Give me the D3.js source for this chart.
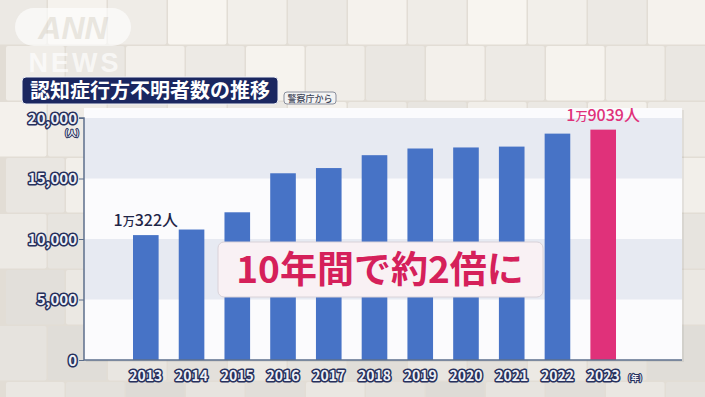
<!DOCTYPE html>
<html lang="ja">
<head>
<meta charset="utf-8">
<title>認知症行方不明者数の推移</title>
<script src="https://cdn.jsdelivr.net/npm/d3@7"></script>
<style>
  body { margin: 0; background: #e8e4dd; }
  svg { display: block; }
  .num { font-family: "Noto Sans CJK JP", "Noto Sans", sans-serif; font-weight: 700;
         fill: #eef0f6; stroke: #27305c; stroke-width: 3px; paint-order: stroke; stroke-linejoin: round; }
</style>
</head>
<body>
<div id="chart"></div>
<script>
// data (警察庁)
var years = ["2013","2014","2015","2016","2017","2018","2019","2020","2021","2022","2023"];
var missing = [10322, 10783, 12208, 15432, 15863, 16927, 17479, 17565, 17636, 18709, 19039];
var yTicks = [0, 5000, 10000, 15000, 20000];

var W = 705, H = 397;
var svg = d3.select("#chart").append("svg").attr("width", W).attr("height", H);

// background: pale tiled wall
var bg = svg.append("g");
bg.append("rect").attr("width", W).attr("height", H).attr("fill", "#e2ddd5");
for (var row = 0; row < 8; row++) {
  for (var col = 0; col < 12; col++) {
    var tw = 60, th = 56;
    var ox = (row % 2) * 18 - 12;
    var shade = 236 + ((row * 7 + col * 13) % 5) * 3 - row * 2;
    bg.append("rect")
      .attr("x", ox + col * tw).attr("y", row * th - 10)
      .attr("width", tw - 1.5).attr("height", th - 1.5)
      .attr("rx", 2)
      .attr("fill", d3.rgb(shade, shade - 3, shade - 8));
  }
}

// ANN NEWS logo
var logo = svg.append("g").attr("opacity", 0.65);
logo.append("rect").attr("x", 15).attr("y", 8).attr("width", 116).attr("height", 38).attr("rx", 19).attr("fill", "#ffffff");
logo.append("text").attr("x", 73).attr("y", 39).attr("text-anchor", "middle")
  .style("font-family", "Liberation Sans, sans-serif").style("font-weight", 700).style("font-style", "italic")
  .style("font-size", "32px").attr("fill", "#e4e0d8").text("ANN");
logo.append("text").attr("x", 75).attr("y", 72).attr("text-anchor", "middle")
  .style("font-family", "Liberation Sans, sans-serif").style("font-weight", 700)
  .style("font-size", "27px").style("letter-spacing", "3px").attr("fill", "#ffffff").text("NEWS");

// scales
var x = d3.scaleBand().domain(years).range([133, 616]).paddingInner(0.44).paddingOuter(0);
var y = d3.scaleLinear().domain([0, 20000]).range([360, 118]);

var plotL = 84, plotR = 682, plotT = 108, plotB = y(0);

// plot panel + bands
svg.append("rect").attr("x", plotL + 2).attr("y", plotT + 2).attr("width", plotR - plotL).attr("height", plotB - plotT)
  .attr("fill", "#000").attr("opacity", 0.06);
svg.append("rect").attr("x", plotL).attr("y", plotT).attr("width", plotR - plotL).attr("height", plotB - plotT)
  .attr("fill", "#fbfbfd");
svg.selectAll(".band").data([[15000, 20000], [5000, 10000]]).enter().append("rect")
  .attr("x", plotL).attr("width", plotR - plotL)
  .attr("y", function(d) { return y(d[1]); })
  .attr("height", function(d) { return y(d[0]) - y(d[1]); })
  .attr("fill", "#e7eaf2");

// bars
svg.selectAll(".bar").data(missing).enter().append("rect")
  .attr("x", function(d, i) { return x(years[i]); })
  .attr("width", x.bandwidth())
  .attr("y", function(d) { return y(d); })
  .attr("height", function(d) { return y(0) - y(d); })
  .attr("fill", function(d, i) { return i === years.length - 1 ? "#e0317a" : "#4773c6"; });

// axes
var yAxis = svg.append("g").attr("transform", "translate(" + plotL + ",0)")
  .call(d3.axisLeft(y).tickValues(yTicks).tickSize(5).tickFormat(d3.format(",")));
yAxis.select(".domain").attr("stroke", "#5d6f8c").attr("stroke-width", 1.5)
  .attr("d", "M-5," + y(20000) + "H0V" + plotB);
yAxis.selectAll(".tick line").attr("stroke", "#5d6f8c");
yAxis.selectAll(".tick text").attr("class", "num").attr("x", -7).attr("dy", "0.36em")
  .style("font-size", "15px");

svg.append("line").attr("x1", plotL).attr("x2", plotR).attr("y1", plotB).attr("y2", plotB)
  .attr("stroke", "#5d6f8c").attr("stroke-width", 1.5);

var xAxis = svg.append("g").attr("transform", "translate(0," + plotB + ")")
  .call(d3.axisBottom(x).tickSize(0));
xAxis.select(".domain").remove();
xAxis.selectAll(".tick text").attr("class", "num").attr("y", 10).attr("dy", "0.75em")
  .style("font-size", "14px");

// unit labels
svg.append("text").attr("class", "num").attr("x", 79).attr("y", 136).attr("text-anchor", "end")
  .style("font-size", "8px").style("stroke-width", "2px").text("(人)");
svg.append("text").attr("class", "num").attr("x", 628).attr("y", 381)
  .style("font-size", "8px").style("stroke-width", "2px").text("(年)");

// title
svg.append("rect").attr("x", 22).attr("y", 77).attr("width", 256).attr("height", 27).attr("rx", 4)
  .attr("fill", "#1b2760").attr("stroke", "#eef0f6").attr("stroke-width", 1);
svg.append("text").attr("x", 30).attr("y", 98)
  .style("font-family", "Noto Sans CJK JP").style("font-weight", 700).style("font-size", "20px")
  .attr("fill", "#ffffff").text("認知症行方不明者数の推移");
svg.append("rect").attr("x", 284).attr("y", 92).attr("width", 52).attr("height", 12).attr("rx", 3)
  .attr("fill", "#f3f3f3").attr("stroke", "#8a8f9c").attr("stroke-width", 1);
svg.append("text").attr("x", 310).attr("y", 101.5).attr("text-anchor", "middle")
  .style("font-family", "Noto Sans CJK JP").style("font-weight", 500).style("font-size", "9px")
  .attr("fill", "#3c4356").text("警察庁から");

// value labels
function valueLabel(i, color) {
  var v = missing[i];
  var man = Math.floor(v / 10000), rest = v % 10000;
  var t = svg.append("text")
    .attr("x", x(years[i]) + x.bandwidth() / 2)
    .attr("y", y(v) - 9)
    .attr("text-anchor", "middle")
    .style("font-family", "Noto Sans CJK JP").style("font-weight", 500)
    .attr("fill", color);
  t.append("tspan").style("font-size", "16px").text(man);
  t.append("tspan").style("font-size", "12px").text("万");
  t.append("tspan").style("font-size", "16px").text(rest);
  t.append("tspan").style("font-size", "16px").text("人");
}
valueLabel(0, "#1f2547");
valueLabel(years.length - 1, "#e0317a");

// callout
svg.append("rect").attr("x", 218).attr("y", 242).attr("width", 325).attr("height", 55).attr("rx", 6)
  .attr("fill", "#f9f1f4").attr("stroke", "#d9d2d8").attr("stroke-width", 1);
svg.append("text").attr("x", 380).attr("y", 283).attr("text-anchor", "middle")
  .style("font-family", "Noto Sans CJK JP").style("font-weight", 700).style("font-size", "37px")
  .attr("fill", "#d5205a").text("10年間で約2倍に");
</script>
</body>
</html>
